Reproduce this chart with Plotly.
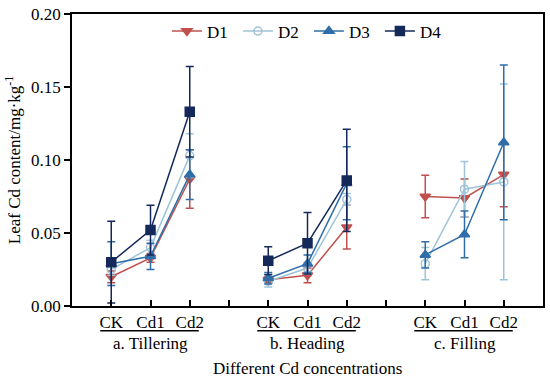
import plotly.graph_objects as go

stages = ["a. Tillering", "b. Heading", "c. Filling"]
levels = ["CK", "Cd1", "Cd2"]
series_names = ["D1", "D2", "D3", "D4"]

D1 = [0.020, 0.033, 0.087, 0.018, 0.021, 0.054, 0.075, 0.074, 0.090]
D1_err = [0.004, 0.003, 0.020, 0.002, 0.005, 0.015, 0.0145, 0.013, 0.022]
D2 = [0.025, 0.040, 0.103, 0.017, 0.026, 0.073, 0.029, 0.080, 0.085]
D2_err = [0.004, 0.005, 0.015, 0.004, 0.004, 0.004, 0.011, 0.019, 0.067]
D3 = [0.029, 0.034, 0.090, 0.019, 0.029, 0.084, 0.035, 0.049, 0.112]
D3_err = [0.015, 0.009, 0.017, 0.004, 0.006, 0.025, 0.009, 0.016, 0.053]
D4 = [0.030, 0.052, 0.133, 0.031, 0.043, 0.086, None, None, None]
D4_err = [0.028, 0.017, 0.031, 0.0095, 0.021, 0.035, None, None, None]

values = [D1, D2, D3, D4]
errors = [D1_err, D2_err, D3_err, D4_err]
colors = ["#c0504d", "#9fc4d8", "#2f6ea8", "#14295a"]
symbols = ["triangle-down", "circle-open", "triangle-up", "square"]

FONT = "Liberation Serif, Times New Roman, serif"

n_lv = len(levels)
xs = [si * (n_lv + 1) + li + 1 for si in range(len(stages)) for li in range(n_lv)]

fig = go.Figure()
for name, vals, errs, col, sym in zip(series_names, values, errors, colors, symbols):
    x_all, y_all, e_all = [], [], []
    for si in range(len(stages)):
        for li in range(n_lv):
            k = si * n_lv + li
            x_all.append(xs[k])
            y_all.append(vals[k])
            e_all.append(errs[k] if errs[k] is not None else 0)
        if si < len(stages) - 1:
            x_all.append(None)
            y_all.append(None)
            e_all.append(0)
    fig.add_trace(go.Scatter(
        x=x_all, y=y_all, name=name, mode="lines+markers",
        line=dict(color=col, width=1.5),
        marker=dict(symbol=sym, size=9 if sym != "circle-open" else 8, color=col,
                    line=dict(width=1.5, color=col)),
        error_y=dict(type="data", array=e_all, visible=True, color=col,
                     thickness=1.5, width=4),
        connectgaps=False,
    ))

n_slots = len(stages) * (n_lv + 1)
tickvals = list(range(1, n_slots))
ticktext = ["" if t % (n_lv + 1) == 0 else levels[t % (n_lv + 1) - 1] for t in tickvals]

fig.update_layout(
    width=550, height=379,
    margin=dict(l=72, r=5, t=12, b=73),
    paper_bgcolor="white", plot_bgcolor="white",
    font=dict(family=FONT, size=17, color="black"),
    showlegend=True,
    legend=dict(orientation="h", x=0.503, xanchor="center", y=0.94, yanchor="middle",
                bgcolor="rgba(0,0,0,0)", font=dict(size=17),
                entrywidth=26, tracegroupgap=0),
)
fig.update_xaxes(
    range=[0, n_slots], tickmode="array", tickvals=tickvals, ticktext=ticktext,
    ticks="inside", ticklen=6, tickwidth=1.5, tickcolor="black",
    showline=True, linecolor="black", linewidth=1.5, mirror=True,
    showgrid=False, zeroline=False, tickfont=dict(size=17),
)
fig.update_yaxes(
    range=[0, 0.20], tickvals=[0, 0.05, 0.10, 0.15, 0.20], tickformat=".2f",
    ticks="outside", ticklen=6, tickwidth=1.5, tickcolor="black",
    showline=True, linecolor="black", linewidth=1.5, mirror=True,
    showgrid=False, zeroline=False, tickfont=dict(size=17),
    title=dict(text="Leaf Cd content/mg·kg<sup>-1</sup>", font=dict(size=17), standoff=6),
)

for si, st in enumerate(stages):
    x0 = xs[si * n_lv] - 0.28
    x1 = xs[si * n_lv + n_lv - 1] + 0.23
    fig.add_shape(type="line", xref="x", yref="paper", x0=x0, x1=x1, y0=-0.085, y1=-0.085,
                  line=dict(color="black", width=1.5))
    fig.add_annotation(x=xs[si * n_lv + 1], xref="x", y=-0.09, yref="paper",
                       text=st, showarrow=False, yanchor="top",
                       font=dict(family=FONT, size=17, color="black"))

fig.add_annotation(x=0.5, xref="paper", y=-0.175, yref="paper",
                   text="Different Cd concentrations", showarrow=False, yanchor="top",
                   font=dict(family=FONT, size=17, color="black"))

fig.write_html("out.html", config={"displayModeBar": False},
               post_script="document.body.style.margin='0';document.body.style.padding='0';")
